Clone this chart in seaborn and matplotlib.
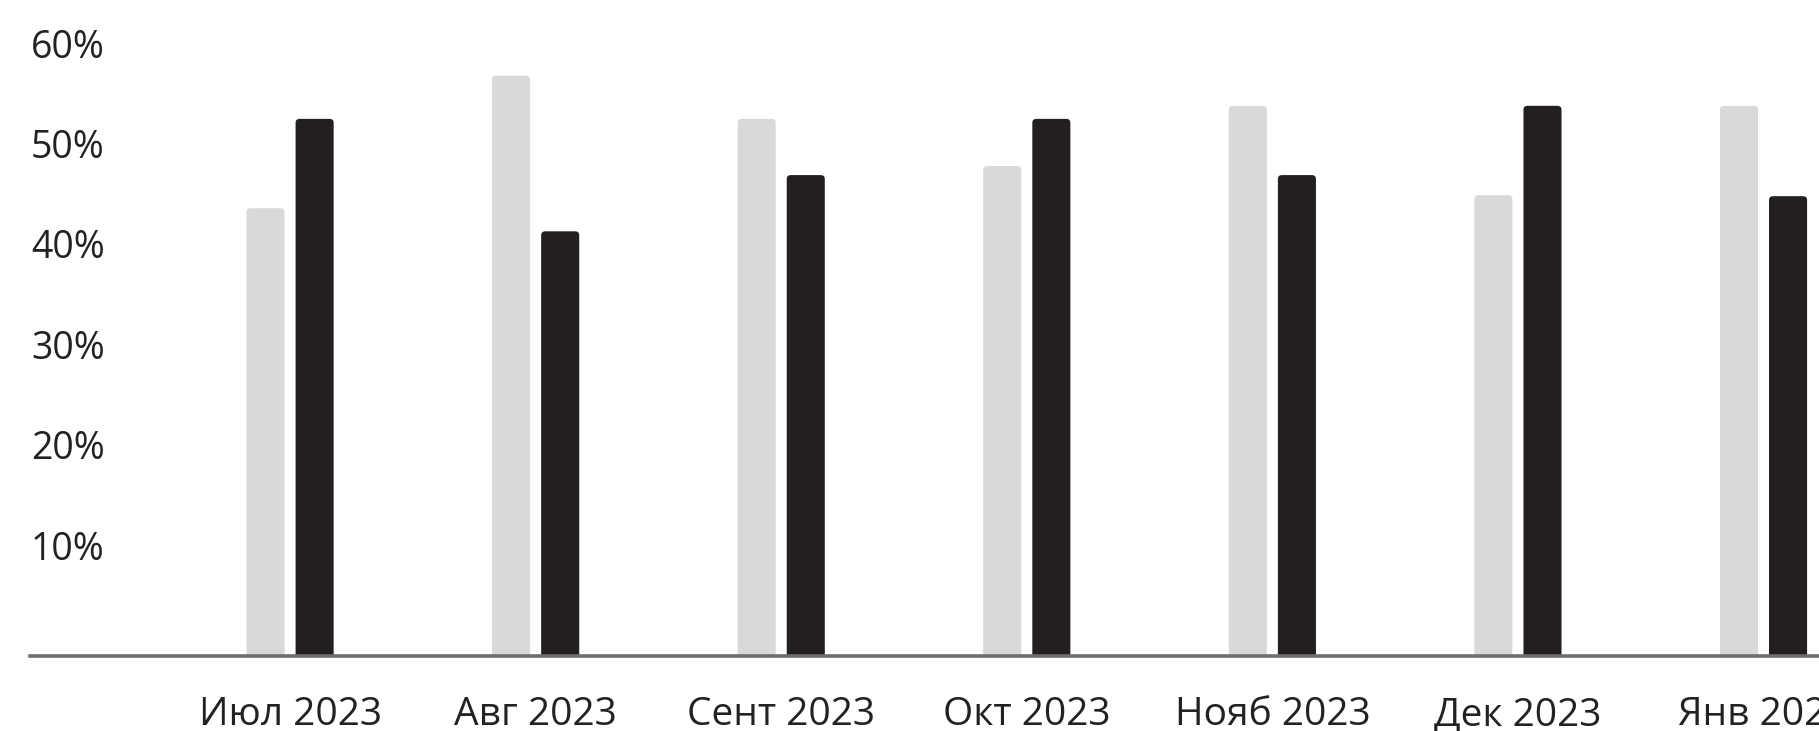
import matplotlib
matplotlib.use("Agg")
import matplotlib.pyplot as plt
import matplotlib.transforms as mtransforms
from matplotlib.patches import FancyBboxPatch
import numpy as np
import pandas as pd
import seaborn as sns

# data
months = ["Июл 2023", "Авг 2023", "Сент 2023", "Окт 2023", "Нояб 2023", "Дек 2023", "Янв 2024"]
series_names = ["Серия 1", "Серия 2"]
light_vals = [44.6, 57.8, 53.5, 48.8, 54.8, 45.9, 54.8]
dark_vals = [53.5, 42.3, 47.9, 53.5, 47.9, 54.8, 45.8]
y_ticks = [10, 20, 30, 40, 50, 60]

df = pd.DataFrame({
    "month": months * 2,
    "series": [series_names[0]] * len(months) + [series_names[1]] * len(months),
    "value": light_vals + dark_vals,
})

sns.set_theme(style="white")
plt.rcParams["font.family"] = ["Open Sans", "DejaVu Sans"]

W, H = 1819, 731
fig = plt.figure(figsize=(W / 100, H / 100), dpi=100)
ax = fig.add_axes([30 / W, 75 / H, 1 - 30 / W, 656 / H])

sns.barplot(data=df, x="month", y="value", hue="series",
            palette=["#d9d9d9", "#231f20"], saturation=1,
            width=0.4, gap=0.225, errorbar=None, legend=False, ax=ax)

ax.set_xlim(-1.059, 6.226)
ax.set_ylim(0, 65.34)
ax.set_xlabel("")
ax.set_ylabel("")

# rounded tops on the bars: swap each rectangle for a rounded box
fig.canvas.draw()
bb = ax.get_window_extent()
x_per_px = np.diff(ax.get_xlim())[0] / bb.width
y_per_px = np.diff(ax.get_ylim())[0] / bb.height
aspect = y_per_px / x_per_px
r = 4 * x_per_px
for p in list(ax.patches):
    x, y, w, h = p.get_x(), p.get_y(), p.get_width(), p.get_height()
    ext = r * aspect
    box = FancyBboxPatch((x, y - ext), w, h + ext,
                         boxstyle=f"round,pad=0,rounding_size={r}",
                         mutation_aspect=aspect,
                         facecolor=p.get_facecolor(), edgecolor="none",
                         zorder=p.get_zorder())
    p.remove()
    ax.add_patch(box)

for s in ["top", "right", "left"]:
    ax.spines[s].set_visible(False)
ax.spines["bottom"].set_color("#6e6e6e")
ax.spines["bottom"].set_linewidth(2.6)
ax.spines["bottom"].set_zorder(5)

ax.set_yticks([])
ax.tick_params(axis="x", length=0, pad=29, labelsize=28, labelcolor="#222222")

# y labels sit a little above their value, left aligned inside the axes
offset = mtransforms.ScaledTranslation(0.01, 0.06, fig.dpi_scale_trans)
for t in y_ticks:
    ax.text(0, t, f"{t}%", transform=ax.get_yaxis_transform() + offset,
            ha="left", va="center", fontsize=27, color="#222222")

fig.savefig("out.png", dpi=100, facecolor="white")
